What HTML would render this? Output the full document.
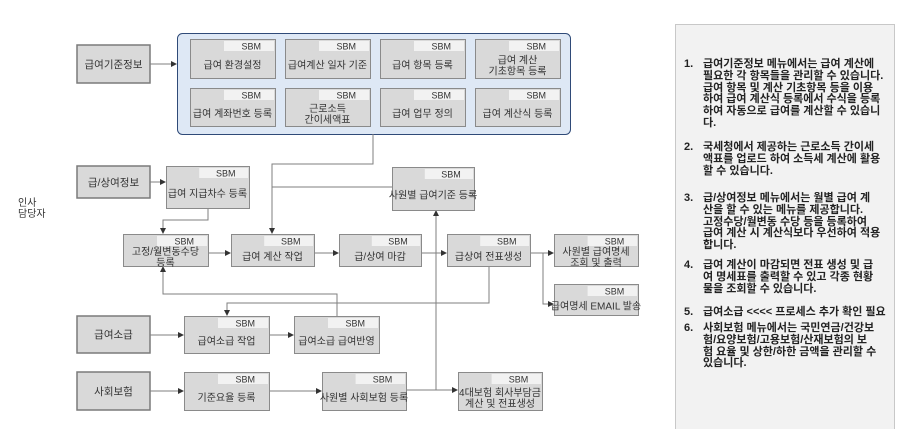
<!DOCTYPE html>
<html><head><meta charset="utf-8"><style>
html,body{margin:0;padding:0;background:#fff;width:900px;height:429px;overflow:hidden;position:relative}
svg text{font-family:"Liberation Sans","Noto Sans CJK KR",sans-serif}
#panel{position:absolute;left:675px;top:24px;width:220px;height:420px;background:#f2f2f2;border:1px solid #c8c8c8;box-sizing:border-box}
.it{position:absolute;left:0;font-family:"Liberation Sans","Noto Sans CJK KR",sans-serif;font-weight:bold;font-size:11px;line-height:11.8px;color:#222;white-space:nowrap}
.it .n{position:absolute;left:8px;top:0}
.it .t{position:absolute;left:27px;top:0}
</style></head><body>
<svg width="900" height="429" viewBox="0 0 900 429" xmlns="http://www.w3.org/2000/svg" style="position:absolute;left:0;top:0">
<defs>
<marker id="a" markerWidth="6" markerHeight="6" refX="5" refY="3" orient="auto" markerUnits="userSpaceOnUse"><path d="M0,0 L6,3 L0,6 z" fill="#333"/></marker>
</defs>
<g font-size="10" fill="#333">
<text x="18" y="206">인사</text><text x="18" y="217">담당자</text>
</g>
<rect x="177.5" y="33.5" width="393" height="101" rx="5" fill="#dee8f5" stroke="#2f4a78" stroke-width="1"/>
<g fill="#d9d9d9" stroke="#7a7a7a" stroke-width="1.5">
<rect x="77" y="45" width="73" height="38"/>
<rect x="77" y="166" width="73" height="32"/>
<rect x="77" y="316" width="73" height="37"/>
<rect x="77" y="372" width="73" height="38"/>
</g>
<g font-size="10.5" fill="#333" text-anchor="middle">
<text x="113.5" y="68">급여기준정보</text>
<text x="113.5" y="186">급/상여정보</text>
<text x="113.5" y="338">급여소급</text>
<text x="113.5" y="395">사회보험</text>
</g>
<g stroke="#7f7f7f" stroke-width="1" fill="none">
<path d="M150,64 H176" marker-end="url(#a)"/>
<path d="M373,134 V164 H272 V233" marker-end="url(#a)"/>
<path d="M392,187 H272"/>
<path d="M208,208 V220 H163 V233" marker-end="url(#a)"/>
<path d="M150,182 H165" marker-end="url(#a)"/>
<path d="M208,253 H230" marker-end="url(#a)"/>
<path d="M314,253 H338" marker-end="url(#a)"/>
<path d="M421,253 H446" marker-end="url(#a)"/>
<path d="M530,253 H553" marker-end="url(#a)"/>
<path d="M543,253 V304 H553" marker-end="url(#a)"/>
<path d="M489,266 V303 H227 V315" marker-end="url(#a)"/>
<path d="M337,316 V294 H163 V267" marker-end="url(#a)"/>
<path d="M436,390 V211" marker-end="url(#a)"/>
<path d="M150,335 H183" marker-end="url(#a)"/>
<path d="M269,335 H293" marker-end="url(#a)"/>
<path d="M150,391 H183" marker-end="url(#a)"/>
<path d="M269,391 H321" marker-end="url(#a)"/>
<path d="M406,390 H457" marker-end="url(#a)"/>
</g>
<g id="nodes" font-size="10" text-anchor="middle" fill="#333">
</g>
</svg>
<script>
var N=[
[190,39,85,39,["급여 환경설정"]],
[285,39,85,39,["급여계산 일자 기준"]],
[380,39,85,39,["급여 항목 등록"]],
[475,39,85,39,["급여 계산","기초항목 등록"]],
[190,88,85,38,["급여 계좌번호 등록"]],
[285,88,85,38,["근로소득","간이세액표"]],
[380,88,85,38,["급여 업무 정의"]],
[475,88,85,38,["급여 계산식 등록"]],
[166,166,83,42,["급여 지급차수 등록"]],
[392,167,82,43,["사원별 급여기준 등록"]],
[123,234,85,32,["고정/월변동수당","등록"]],
[231,234,83,32,["급여 계산 작업"]],
[339,234,82,32,["급/상여 마감"]],
[447,234,83,32,["급상여 전표생성"]],
[554,234,84,32,["사원별 급여명세","조회 및 출력"]],
[554,284,84,31,["급여명세 EMAIL 발송"]],
[184,316,85,37,["급여소급 작업"]],
[294,316,85,37,["급여소급 급여반영"]],
[184,372,85,38,["기준요율 등록"]],
[322,372,84,38,["사원별 사회보험 등록"]],
[458,372,84,38,["4대보험 회사부담금","계산 및 전표생성"]]
];
var g=document.getElementById('nodes'),s='';
N.forEach(function(n){var x=n[0],y=n[1],w=n[2],h=n[3],L=n[4];
s+='<rect x="'+(x+.5)+'" y="'+(y+.5)+'" width="'+w+'" height="'+h+'" fill="#d9d9d9" stroke="#8a8a8a"/>';
s+='<rect x="'+(x+w*0.4)+'" y="'+(y+2)+'" width="'+(w*0.6-1)+'" height="10" fill="#f2f2f2"/>';
s+='<text x="'+(x+w*0.72)+'" y="'+(y+10.5)+'" font-size="9">SBM</text>';
var c=y+12+(h-12)/2;
if(L.length==1){s+='<text x="'+(x+w/2)+'" y="'+(c+4)+'">'+L[0]+'</text>';}
else{s+='<text x="'+(x+w/2)+'" y="'+(c-1)+'">'+L[0]+'</text><text x="'+(x+w/2)+'" y="'+(c+10)+'">'+L[1]+'</text>';}
});
g.innerHTML=s;
</script>
<div id="panel">
<div class="it" style="top:34px"><span class="n">1.</span><span class="t">급여기준정보 메뉴에서는 급여 계산에<br>필요한 각 항목들을 관리할 수 있습니다.<br>급여 항목 및 계산 기초항목 등을 이용<br>하여 급여 계산식 등록에서 수식을 등록<br>하여 자동으로 급여를 계산할 수 있습니<br>다.</span></div>
<div class="it" style="top:117px"><span class="n">2.</span><span class="t">국세청에서 제공하는 근로소득 간이세<br>액표를 업로드 하여 소득세 계산에 활용<br>할 수 있습니다.</span></div>
<div class="it" style="top:168px"><span class="n">3.</span><span class="t">급/상여정보 메뉴에서는 월별 급여 계<br>산을 할 수 있는 메뉴를 제공합니다.<br>고정수당/월변동 수당 등을 등록하여<br>급여 계산 시 계산식보다 우선하여 적용<br>합니다.</span></div>
<div class="it" style="top:235px"><span class="n">4.</span><span class="t">급여 계산이 마감되면 전표 생성 및 급<br>여 명세표를 출력할 수 있고 각종 현황<br>물을 조회할 수 있습니다.</span></div>
<div class="it" style="top:282px"><span class="n">5.</span><span class="t">급여소급 &lt;&lt;&lt;&lt; 프로세스 추가 확인 필요</span></div>
<div class="it" style="top:298px"><span class="n">6.</span><span class="t">사회보험 메뉴에서는 국민연금/건강보<br>험/요양보험/고용보험/산재보험의 보<br>험 요율 및 상한/하한 금액을 관리할 수<br>있습니다.</span></div>
</div>
</body></html>
